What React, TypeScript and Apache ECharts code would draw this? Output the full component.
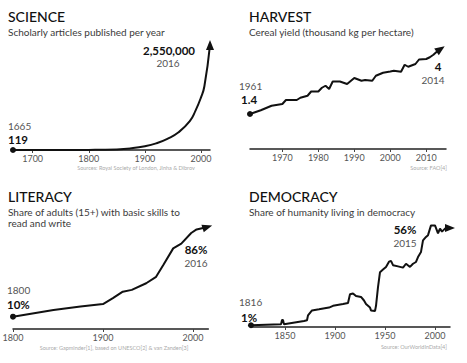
import React, { useEffect, useRef } from "react";
import * as echarts from "echarts";

const FONT = "Lato, 'Noto Sans', sans-serif";

// SCIENCE: scholarly articles published per year
const scienceYears = [1665, 1700, 1750, 1800, 1850, 1875, 1900, 1920, 1940, 1960, 1980, 1990, 2000, 2006, 2016];
const scienceArticles = [119, 300, 800, 3000, 15000, 40000, 90000, 160000, 270000, 430000, 700000, 950000, 1280000, 1550000, 2550000];
const scienceTicks = [1700, 1800, 1900, 2000];

// HARVEST: cereal yield (thousand kg per hectare)
const harvestYears = [1961, 1964, 1967, 1970, 1971, 1974, 1975, 1977, 1978, 1980, 1981, 1982, 1983, 1984, 1986, 1988, 1990, 1992, 1993, 1995, 1996, 1998, 2000, 2001, 2003, 2004, 2005, 2007, 2008, 2010, 2011, 2012, 2013, 2014];
const harvestYield = [1.4, 1.55, 1.73, 1.8, 1.96, 1.96, 2.05, 2.13, 2.3, 2.3, 2.45, 2.53, 2.4, 2.7, 2.7, 2.6, 2.84, 2.73, 2.76, 2.73, 2.93, 3.05, 3.1, 3.13, 3.09, 3.37, 3.29, 3.4, 3.58, 3.6, 3.67, 3.77, 3.9, 4.0];
const harvestTicks = [1970, 1980, 1990, 2000, 2010];

// LITERACY: share of adults with basic literacy (%)
const literacyYears = [1800, 1845, 1875, 1900, 1911, 1922, 1932, 1948, 1959, 1967, 1978, 1987, 1998, 2004, 2016];
const literacyShare = [10.4, 16, 19, 21, 26, 31.5, 33, 38.6, 44, 54, 68, 72, 81, 84, 86];
const literacyTicks = [1800, 1900, 2000];

// DEMOCRACY: share of humanity living in democracy (%)
const democracyYears = [1816, 1846, 1847, 1848, 1849, 1869, 1872, 1873, 1877, 1884, 1894, 1898, 1908, 1913, 1915, 1918, 1921, 1926, 1929, 1931, 1935, 1936, 1940, 1941, 1943, 1945, 1948, 1951, 1954, 1956, 1958, 1963, 1968, 1971, 1975, 1978, 1981, 1983, 1986, 1988, 1991, 1993, 1996, 2000, 2003, 2005, 2007, 2010, 2015];
const democracyShare = [1, 1.5, 4, 4, 1.5, 3.4, 3.8, 6.6, 9.4, 10, 11, 12, 13, 13.6, 18.5, 19, 17.5, 17, 15, 13, 11, 9.4, 9, 12, 22.6, 31, 32.5, 34, 37, 37.4, 35, 34.3, 33.6, 35.8, 34, 35.8, 36.8, 39.6, 42.5, 49, 51, 52, 57.5, 57.5, 53, 55.7, 54, 55.7, 56];
const democracyTicks = [1850, 1900, 1950, 2000];

function buildData(xs: number[], ys: number[], arrowRotate: number) {
  return xs.map((x, i) => {
    if (i === 0) return { value: [x, ys[i]], symbol: "circle", symbolSize: 6 };
    if (i === xs.length - 1)
      return { value: [x, ys[i]], symbol: "triangle", symbolSize: [8, 10], symbolRotate: arrowRotate };
    return { value: [x, ys[i]], symbol: "none" };
  });
}

function xAxisOf(gridIndex: number, min: number, max: number, ticks: number[]) {
  return {
    type: "value",
    gridIndex,
    min,
    max,
    axisLine: { show: true, onZero: false, lineStyle: { color: "#222", width: 1.5 } },
    axisTick: { show: true, customValues: ticks, length: 3, lineStyle: { color: "#444" } },
    axisLabel: {
      customValues: ticks,
      fontSize: 9,
      color: "#555",
      margin: 4,
      fontFamily: FONT,
      formatter: (v: number) => String(v),
    },
    splitLine: { show: false },
  };
}

function yAxisOf(gridIndex: number, max: number) {
  return { type: "value", gridIndex, min: 0, max, show: false, splitLine: { show: false } };
}

function lineSeries(idx: number, xs: number[], ys: number[], rot: number, smooth: boolean) {
  return {
    type: "line",
    xAxisIndex: idx,
    yAxisIndex: idx,
    data: buildData(xs, ys, rot),
    smooth,
    showSymbol: true,
    showAllSymbol: true,
    clip: false,
    lineStyle: { color: "#111", width: 2 },
    itemStyle: { color: "#111" },
  };
}

type TOpt = { size?: number; color?: string; weight?: string | number; align?: string };
function txt(x: number, y: number, text: string, o: TOpt = {}) {
  return {
    type: "text",
    x,
    y,
    silent: true,
    style: {
      text,
      fontFamily: FONT,
      fontSize: o.size ?? 10,
      fontWeight: o.weight ?? "normal",
      fill: o.color ?? "#555",
      align: o.align ?? "left",
      verticalAlign: "middle",
    },
  };
}

export default function App() {
  const ref = useRef<HTMLDivElement>(null);
  useEffect(() => {
    if (!ref.current) return;
    const chart = echarts.init(ref.current, null, { renderer: "svg" });
    const title = { size: 14, color: "#111", weight: 500 };
    const sub = { size: 10, color: "#3a3a3a" };
    const big = { size: 11.5, color: "#111", weight: "bold" };
    const src = { size: 5.5, color: "#aaa" };
    chart.setOption({
      animation: false,
      backgroundColor: "#fff",
      grid: [
        { left: 13, width: 197, top: 43, height: 107, outerBoundsMode: "none" },
        { left: 250, width: 196, top: 44, height: 105, outerBoundsMode: "none" },
        { left: 13, width: 195.3, top: 222.3, height: 106.7, outerBoundsMode: "none" },
        { left: 251, width: 199, top: 221, height: 106, outerBoundsMode: "none" },
      ],
      xAxis: [
        xAxisOf(0, 1665, 2016, scienceTicks),
        xAxisOf(1, 1961, 2015.5, harvestTicks),
        xAxisOf(2, 1800, 2017, literacyTicks),
        xAxisOf(3, 1816, 2015, democracyTicks),
      ],
      yAxis: [yAxisOf(0, 2600000), yAxisOf(1, 4.2), yAxisOf(2, 90), yAxisOf(3, 60)],
      series: [
        lineSeries(0, scienceYears, scienceArticles, 0, true),
        lineSeries(1, harvestYears, harvestYield, -55, false),
        lineSeries(2, literacyYears, literacyShare, -73, false),
        lineSeries(3, democracyYears, democracyShare, -90, false),
      ],
      graphic: [
        txt(8, 16, "SCIENCE", title),
        txt(8, 32, "Scholarly articles published per year", sub),
        txt(169, 50, "2,550,000", { ...big, align: "center" }),
        txt(168, 63, "2016", { align: "center" }),
        txt(8, 126, "1665"),
        txt(8, 139, "119", big),
        txt(136, 168, "Sources: Royal Society of London, Jinha & Dibrov", { ...src, align: "center" }),

        txt(249, 16, "HARVEST", title),
        txt(249, 32, "Cereal yield (thousand kg per hectare)", sub),
        txt(239, 86, "1961"),
        txt(241, 99, "1.4", big),
        txt(438, 66, "4", { ...big, align: "center" }),
        txt(433, 80, "2014", { align: "center" }),
        txt(447, 168, "Source: FAO[4]", { ...src, align: "right" }),

        txt(8, 196, "LITERACY", title),
        txt(8, 212, "Share of adults (15+) with basic skills to", sub),
        txt(8, 223, "read and write", sub),
        txt(7, 290, "1800"),
        txt(7, 304, "10%", big),
        txt(196, 249.5, "86%", { ...big, align: "center" }),
        txt(196, 263, "2016", { align: "center" }),
        txt(114, 348, "Source: Gapminder[1], based on UNESCO[2] & van Zanden[3]", { ...src, align: "center" }),

        txt(249, 196, "DEMOCRACY", title),
        txt(249, 212, "Share of humanity living in democracy", sub),
        txt(239, 302, "1816"),
        txt(241, 317, "1%", big),
        txt(405, 229.5, "56%", { ...big, align: "center" }),
        txt(405, 242.5, "2015", { align: "center" }),
        txt(447, 347, "Source: OurWorldInData[4]", { ...src, align: "right" }),
      ],
    });
    return () => chart.dispose();
  }, []);
  return (
    <div
      ref={ref}
      style={{ position: "fixed", left: 0, top: 0, width: 467, height: 363, background: "#fff" }}
    />
  );
}
